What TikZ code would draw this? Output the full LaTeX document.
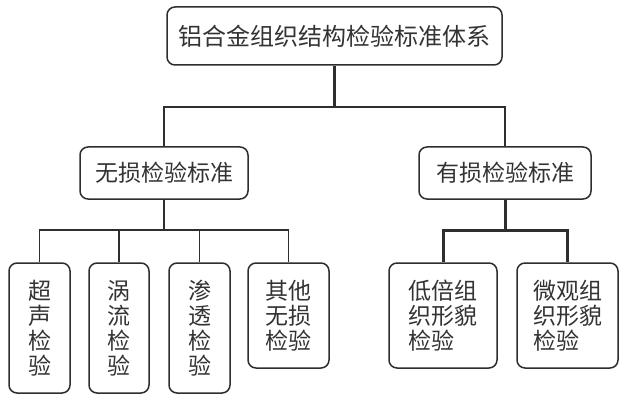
\documentclass[tikz,border=0pt]{standalone}
\usepackage{fontspec}
\newfontfamily\cjk{Noto Sans CJK SC}
\definecolor{ink}{HTML}{2E2E2E}
\definecolor{txt}{HTML}{333333}
\begin{document}
\begin{tikzpicture}[x=1pt,y=-1pt,
  box/.style={draw=ink,line width=1.5pt,rounded corners=8pt,inner sep=0pt,
    text=txt,align=left,font=\cjk\fontsize{23}{25}\selectfont},
  thickline/.style={draw=ink,line width=2.4pt},
  thinline/.style={draw=ink,line width=1.5pt},
  heavyline/.style={draw=ink,line width=3pt}]
\useasboundingbox (0,0) rectangle (620,398);
\fill[white] (0,0) rectangle (620,398);
\node[box,minimum width=335pt,minimum height=58pt,font=\cjk\fontsize{24}{26}\selectfont] (top) at (334.5,36) {铝合金组织结构检验标准体系};
\node[box,minimum width=168pt,minimum height=52pt] (A) at (164,173) {无损检验标准};
\node[box,minimum width=172pt,minimum height=52pt] (B) at (505,173) {有损检验标准};
\node[box,minimum width=61pt,minimum height=130pt] (L1) at (39.5,328) {超\\声\\检\\验};
\node[box,minimum width=60pt,minimum height=130pt] (L2) at (119,328) {涡\\流\\检\\验};
\node[box,minimum width=61pt,minimum height=130pt] (L3) at (199.5,328) {渗\\透\\检\\验};
\node[box,minimum width=81pt,minimum height=105pt] (L4) at (288.5,315.5) {其他\\无损\\检验};
\node[box,minimum width=108pt,minimum height=105pt] (R1) at (443,315.5) {低倍组\\织形貌\\检验};
\node[box,minimum width=101pt,minimum height=105pt] (R2) at (567.5,315.5) {微观组\\织形貌\\检验};
\coordinate (bar1) at (0,107);
\coordinate (bar2) at (0,230);
\draw[thickline] (top.south) -- (top.south |- bar1);
\draw[thickline] (A.north) -- (A.north |- bar1) -- (B.north |- bar1) -- (B.north);
\draw[thinline] (A.south) -- (A.south |- bar2);
\draw[thinline] (L1.north) -- (L1.north |- bar2) -- (L4.north |- bar2) -- (L4.north);
\draw[thinline] (L2.north) -- (L2.north |- bar2);
\draw[thinline] (L3.north) -- (L3.north |- bar2);
\draw[heavyline] (B.south) -- (B.south |- bar2);
\draw[heavyline] (R1.north) -- (R1.north |- bar2) -- (R2.north |- bar2) -- (R2.north);
\end{tikzpicture}
\end{document}
